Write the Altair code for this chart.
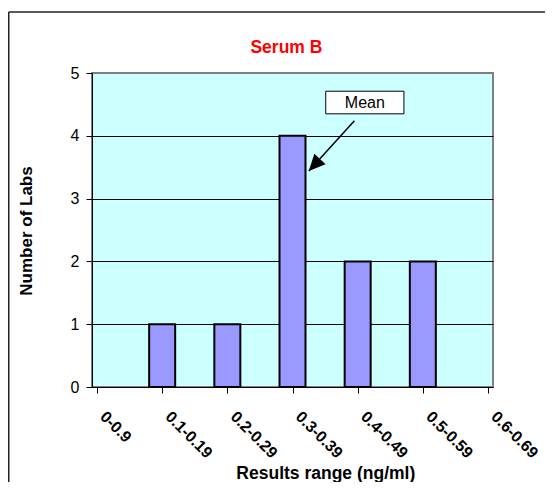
import json
import altair as alt
import pandas as pd

# ---- data ----
categories = ["0-0.9", "0.1-0.19", "0.2-0.29", "0.3-0.39", "0.4-0.49", "0.5-0.59", "0.6-0.69"]
counts = [0, 1, 1, 4, 2, 2, 0]

# annotation, in data units (category index, number of labs)
mean_label = "Mean"
mean_box_x = [3.51, 4.71]
mean_box_y = [4.35, 4.71]
mean_text_pos = [4.11, 4.447]
arrow_from = [3.95, 4.24]
arrow_to = [3.25, 3.44]

title_text = "Serum B"
x_title = "Results range (ng/ml)"
y_title = "Number of Labs"

FONT = "Liberation Sans"
W, H = 401, 314
PL, PT, PR, PB = 84, 65, 52, 95

bars_df = pd.DataFrame({"idx": list(range(len(categories))), "cat": categories, "n": counts})
bars_df = bars_df[bars_df["n"] > 0]

label_expr = json.dumps(categories) + "[datum.value]"
xscale = alt.Scale(domain=[0, len(categories) - 1], nice=False, zero=False)
yscale = alt.Scale(domain=[0, 5], nice=False)

xaxis = alt.Axis(
    values=list(range(len(categories))), labelExpr=label_expr, grid=False,
    domainColor="black", tickColor="black", tickSize=6, tickWidth=1,
    labelFont=FONT, labelFontSize=16, labelFontWeight="bold", labelColor="black",
    labelAngle=45, labelAlign="left", labelBaseline="top",
    labelOffset=11, labelPadding=15, labelOverlap=False, labelFlush=False, labelBound=False,
)
yaxis = alt.Axis(
    values=[0, 1, 2, 3, 4, 5], format="d", grid=True,
    gridColor=alt.condition("datum.value == 5", alt.value("#808080"), alt.value("black")),
    gridOpacity=1, gridWidth=1,
    domainColor="black", tickColor="black", tickSize=6, tickWidth=1,
    labelFont=FONT, labelFontSize=16, labelColor="black", labelPadding=7,
)

bars = alt.Chart(bars_df).mark_bar(
    orient="vertical", size=26, color="#9999FF", stroke="black", strokeWidth=2
).encode(
    x=alt.X("idx:Q", scale=xscale, axis=xaxis, title=None),
    y=alt.Y("n:Q", scale=yscale, axis=yaxis, title=None, stack=None),
)

box_df = pd.DataFrame({"x": [mean_box_x[0]], "x2": [mean_box_x[1]],
                       "y": [mean_box_y[0]], "y2": [mean_box_y[1]]})
box = alt.Chart(box_df).mark_rect(fill="white", stroke="black", strokeWidth=1).encode(
    x=alt.X("x:Q", title=None), x2="x2", y=alt.Y("y:Q", title=None), y2="y2")

mtext_df = pd.DataFrame({"x": [mean_text_pos[0]], "y": [mean_text_pos[1]], "t": [mean_label]})
mtext = alt.Chart(mtext_df).mark_text(
    font=FONT, fontSize=16, align="center", baseline="alphabetic", color="black"
).encode(x=alt.X("x:Q", title=None), y=alt.Y("y:Q", title=None), text="t:N")

arrow_df = pd.DataFrame({"x": [arrow_from[0]], "y": [arrow_from[1]],
                         "x2": [arrow_to[0]], "y2": [arrow_to[1]]})
arrow_line = alt.Chart(arrow_df).mark_rule(color="black", strokeWidth=1.5).encode(
    x=alt.X("x:Q", title=None), y=alt.Y("y:Q", title=None), x2="x2", y2="y2")

head_df = pd.DataFrame({"x": [arrow_to[0]], "y": [arrow_to[1]]})
arrow_head = alt.Chart(head_df).mark_point(
    shape="M0,0L-0.47,-1L0.47,-1Z", filled=True, size=1076, angle=43,
    color="black", opacity=1, strokeWidth=0
).encode(x=alt.X("x:Q", title=None), y=alt.Y("y:Q", title=None))

one = pd.DataFrame({"a": [0]})
title = alt.Chart(one).mark_text(
    text=title_text, font=FONT, fontSize=17.5, fontWeight="bold", color="#FF0000",
    align="center", baseline="alphabetic"
).encode(x=alt.value(194.4), y=alt.value(-20.3))

xt = alt.Chart(one).mark_text(
    text=x_title, font=FONT, fontSize=17.5, fontWeight="bold", color="black",
    align="center", baseline="alphabetic"
).encode(x=alt.value(233.8), y=alt.value(405.5))

yt = alt.Chart(one).mark_text(
    text=y_title, font=FONT, fontSize=17, fontWeight="bold", color="black",
    align="center", baseline="middle", angle=270
).encode(x=alt.value(-65), y=alt.value(158))

frame_top = alt.Chart(one).mark_rule(color="#222222", strokeWidth=1.5).encode(
    x=alt.value(-PL + 0.75), x2=alt.value(W + PR), y=alt.value(-PT + 4))
frame_left = alt.Chart(one).mark_rule(color="#222222", strokeWidth=1.5).encode(
    x=alt.value(-PL + 0.75), y=alt.value(-PT + 4), y2=alt.value(H + PB))

chart = alt.layer(
    bars, arrow_line, arrow_head, box, mtext, title, xt, yt, frame_top, frame_left
).properties(
    width=W, height=H,
    padding={"left": PL, "top": PT, "right": PR, "bottom": PB},
    autosize=alt.AutoSizeParams(type="none"),
    background="white",
).configure_view(
    fill="#CCFFFF", stroke="#808080", strokeWidth=2
)

chart.save("out.html", embed_options={"renderer": "svg", "actions": False})
